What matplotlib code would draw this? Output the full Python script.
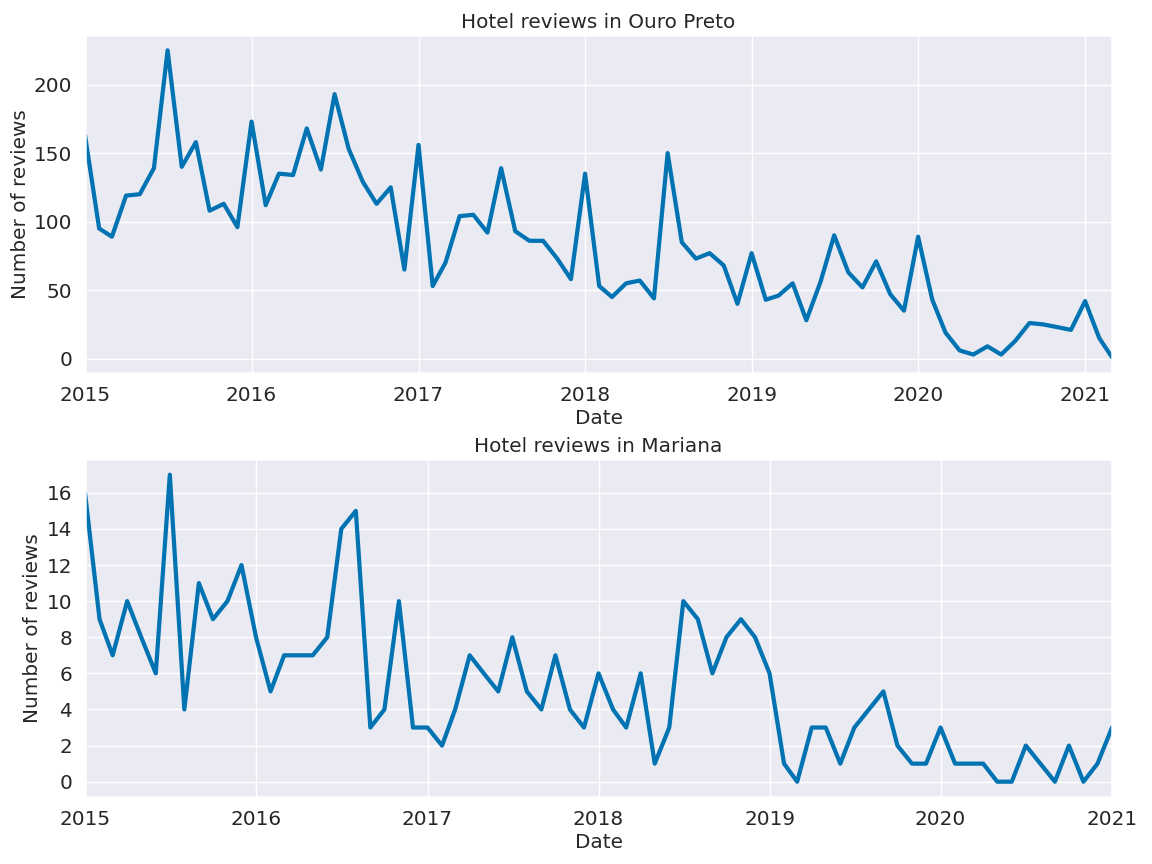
import matplotlib
matplotlib.use("Agg")
import matplotlib.pyplot as plt
import matplotlib.dates as mdates
import pandas as pd
import seaborn as sns

ouro_start = "2015-01-01"
ouro_values = [163, 95, 89, 119, 120, 139, 225, 140, 158, 108, 113, 96,
               173, 112, 135, 134, 168, 138, 193, 153, 129, 113, 125, 65,
               156, 53, 70, 104, 105, 92, 139, 93, 86, 86, 73, 58,
               135, 53, 45, 55, 57, 44, 150, 85, 73, 77, 68, 40,
               77, 43, 46, 55, 28, 56, 90, 63, 52, 71, 47, 35,
               89, 43, 19, 6, 3, 9, 3, 13, 26, 25, 23, 21,
               42, 15, 1]

mariana_start = "2015-01-01"
mariana_values = [16, 9, 7, 10, 8, 6, 17, 4, 11, 9, 10, 12,
                  8, 5, 7, 7, 7, 8, 14, 15, 3, 4, 10, 3,
                  3, 2, 4, 7, 6, 5, 8, 5, 4, 7, 4, 3,
                  6, 4, 3, 6, 1, 3, 10, 9, 6, 8, 9, 8,
                  6, 1, 0, 3, 3, 1, 3, 4, 5, 2, 1, 1,
                  3, 1, 1, 1, 0, 0, 2, 1, 0, 2, 0, 1,
                  3]

titles = ["Hotel reviews in Ouro Preto", "Hotel reviews in Mariana"]
xlabel = "Date"
ylabel = "Number of reviews"

sns.set_theme(style="darkgrid")
plt.rcParams.update({
    "font.size": 10,
    "axes.titlesize": 10,
    "axes.labelsize": 10,
    "xtick.labelsize": 10,
    "ytick.labelsize": 10,
    "xtick.major.size": 3.5,
    "ytick.major.size": 3.5,
    "xtick.major.pad": 3.0,
    "ytick.major.pad": 3.0,
    "axes.labelpad": 2.0,
    "axes.titlepad": 3.5,
    "grid.linewidth": 0.7,
})

ouro_dates = pd.date_range(ouro_start, periods=len(ouro_values), freq="MS")
mariana_dates = pd.date_range(mariana_start, periods=len(mariana_values), freq="MS")

fig, axes = plt.subplots(2, 1, figsize=(8, 6), dpi=144)
color = "#0173b2"

for ax, dates, vals, title in zip(axes, [ouro_dates, mariana_dates],
                                  [ouro_values, mariana_values], titles):
    ax.plot(dates, vals, color=color, lw=2.1)
    ax.set_title(title)
    ax.set_xlabel(xlabel)
    ax.set_ylabel(ylabel)
    ax.set_xlim(dates[0], dates[-1])
    ax.xaxis.set_major_locator(mdates.YearLocator())
    ax.xaxis.set_major_formatter(mdates.DateFormatter("%Y"))

axes[1].set_yticks(range(0, 17, 2))

fig.subplots_adjust(left=0.0738, right=0.9653, top=0.9595, bottom=0.0775,
                    hspace=0.257)
fig.savefig("out.png", dpi=144)
